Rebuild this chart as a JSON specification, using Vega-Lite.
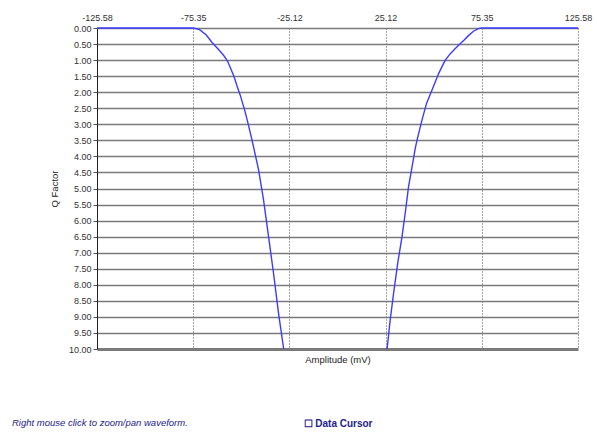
{
  "$schema": "https://vega.github.io/schema/vega-lite/v6.json",
  "width": 481,
  "height": 321,
  "autosize": {"type": "none"},
  "padding": {"left": 97, "top": 28, "right": 19, "bottom": 85},
  "background": "#ffffff",
  "title": {
    "text": "Right mouse click to zoom/pan waveform.",
    "orient": "bottom",
    "anchor": "start",
    "frame": "group",
    "dx": -85,
    "offset": -10,
    "font": "Liberation Sans",
    "fontSize": 9.5,
    "fontStyle": "italic",
    "fontWeight": "normal",
    "color": "#22228c"
  },
  "data": {
    "values": [
      {"side": "L", "amp": -125.58, "q": 0},
      {"side": "L", "amp": -75.35, "q": 0},
      {"side": "L", "amp": -72.0, "q": 0.05},
      {"side": "L", "amp": -68.5, "q": 0.22},
      {"side": "L", "amp": -65.5, "q": 0.45},
      {"side": "L", "amp": -62.0, "q": 0.68},
      {"side": "L", "amp": -59.5, "q": 0.85},
      {"side": "L", "amp": -57.5, "q": 1.02},
      {"side": "L", "amp": -55.5, "q": 1.3},
      {"side": "L", "amp": -54.0, "q": 1.52},
      {"side": "L", "amp": -52.5, "q": 1.8},
      {"side": "L", "amp": -50.75, "q": 2.1},
      {"side": "L", "amp": -48.5, "q": 2.55},
      {"side": "L", "amp": -47.0, "q": 2.9},
      {"side": "L", "amp": -44.6, "q": 3.5},
      {"side": "L", "amp": -41.2, "q": 4.42},
      {"side": "L", "amp": -38.6, "q": 5.36},
      {"side": "L", "amp": -36.0, "q": 6.5},
      {"side": "L", "amp": -33.4, "q": 7.64},
      {"side": "L", "amp": -30.8, "q": 8.88},
      {"side": "L", "amp": -28.1, "q": 10},
      {"side": "R", "amp": 25.9, "q": 10},
      {"side": "R", "amp": 27.5, "q": 9.1},
      {"side": "R", "amp": 29.3, "q": 8.26},
      {"side": "R", "amp": 31.5, "q": 7.3},
      {"side": "R", "amp": 33.7, "q": 6.5},
      {"side": "R", "amp": 35.5, "q": 5.7},
      {"side": "R", "amp": 37.1, "q": 4.94},
      {"side": "R", "amp": 39.0, "q": 4.3},
      {"side": "R", "amp": 40.6, "q": 3.75},
      {"side": "R", "amp": 41.5, "q": 3.5},
      {"side": "R", "amp": 44.1, "q": 2.87},
      {"side": "R", "amp": 46.5, "q": 2.35},
      {"side": "R", "amp": 49.3, "q": 1.94},
      {"side": "R", "amp": 52.8, "q": 1.42},
      {"side": "R", "amp": 55.0, "q": 1.15},
      {"side": "R", "amp": 56.3, "q": 1.0},
      {"side": "R", "amp": 58.9, "q": 0.8},
      {"side": "R", "amp": 61.0, "q": 0.67},
      {"side": "R", "amp": 63.2, "q": 0.54},
      {"side": "R", "amp": 66.0, "q": 0.38},
      {"side": "R", "amp": 68.5, "q": 0.23},
      {"side": "R", "amp": 71.0, "q": 0.1},
      {"side": "R", "amp": 73.5, "q": 0.02},
      {"side": "R", "amp": 75.35, "q": 0},
      {"side": "R", "amp": 125.58, "q": 0}
    ]
  },
  "encoding": {
    "y": {
      "field": "q", "type": "quantitative",
      "scale": {"domain": [0, 10], "reverse": true, "nice": false},
      "axis": {
        "title": "Q Factor",
        "values": [0, 0.5, 1, 1.5, 2, 2.5, 3, 3.5, 4, 4.5, 5, 5.5, 6, 6.5, 7, 7.5, 8, 8.5, 9, 9.5, 10],
        "format": ".2f", "labelFont": "Liberation Sans", "labelFontSize": 9, "labelColor": "#333333",
        "labelPadding": 2, "tickSize": 4, "tickColor": "#555555", "domainColor": "#222222",
        "labelFlush": false, "labelOverlap": false,
        "grid": true, "gridColor": "#7a7a7a",
        "gridWidth": {"condition": {"test": "datum.value >= 10", "value": 3}, "value": 1.6},
        "titleFont": "Liberation Sans", "titleFontSize": 9.5, "titleFontWeight": "normal", "titleColor": "#222222",
        "titlePadding": 9
      }
    },
    "detail": {"field": "side"}
  },
  "resolve": {"axis": {"x": "independent"}},
  "layer": [
    {
      "mark": {"type": "line", "opacity": 0},
      "encoding": {
        "x": {
          "field": "amp", "type": "quantitative",
          "scale": {"domain": [-125.58, 125.58], "nice": false, "zero": false},
          "axis": {
            "orient": "bottom", "title": "Amplitude (mV)", "labels": false, "ticks": false,
            "domain": false, "grid": false, "titlePadding": 5,
            "titleFont": "Liberation Sans", "titleFontSize": 9.5, "titleFontWeight": "normal", "titleColor": "#222222"
          }
        }
      }
    },
    {
      "mark": {"type": "line", "opacity": 0},
      "encoding": {
        "x": {
          "field": "amp", "type": "quantitative",
          "axis": {
            "orient": "bottom", "title": "☐ Data Cursor", "labels": false, "ticks": false,
            "domain": false, "grid": false, "offset": 65, "titlePadding": 4,
            "titleFont": "Liberation Sans", "titleFontSize": 10, "titleFontWeight": "bold", "titleColor": "#22228c"
          }
        }
      }
    },
    {
      "mark": {"type": "line", "color": "#3c3cff", "strokeWidth": 1.4},
      "encoding": {
        "x": {
          "field": "amp", "type": "quantitative",
          "axis": {
            "orient": "top", "title": null, "values": [-125.58, -75.35, -25.12, 25.12, 75.35, 125.58],
            "format": ".2f", "labelExpr": "replace(datum.label, '\u2212', '-')",
            "ticks": false, "domain": false, "labelPadding": 6,
            "labelFont": "Liberation Sans", "labelFontSize": 9, "labelColor": "#333333",
            "grid": true, "gridColor": "#444444", "gridDash": [1, 2], "gridWidth": 1, "gridOpacity": 1,
            "labelFlush": false, "labelOverlap": false
          }
        }
      }
    }
  ],
  "config": {"view": {"stroke": null}}
}
